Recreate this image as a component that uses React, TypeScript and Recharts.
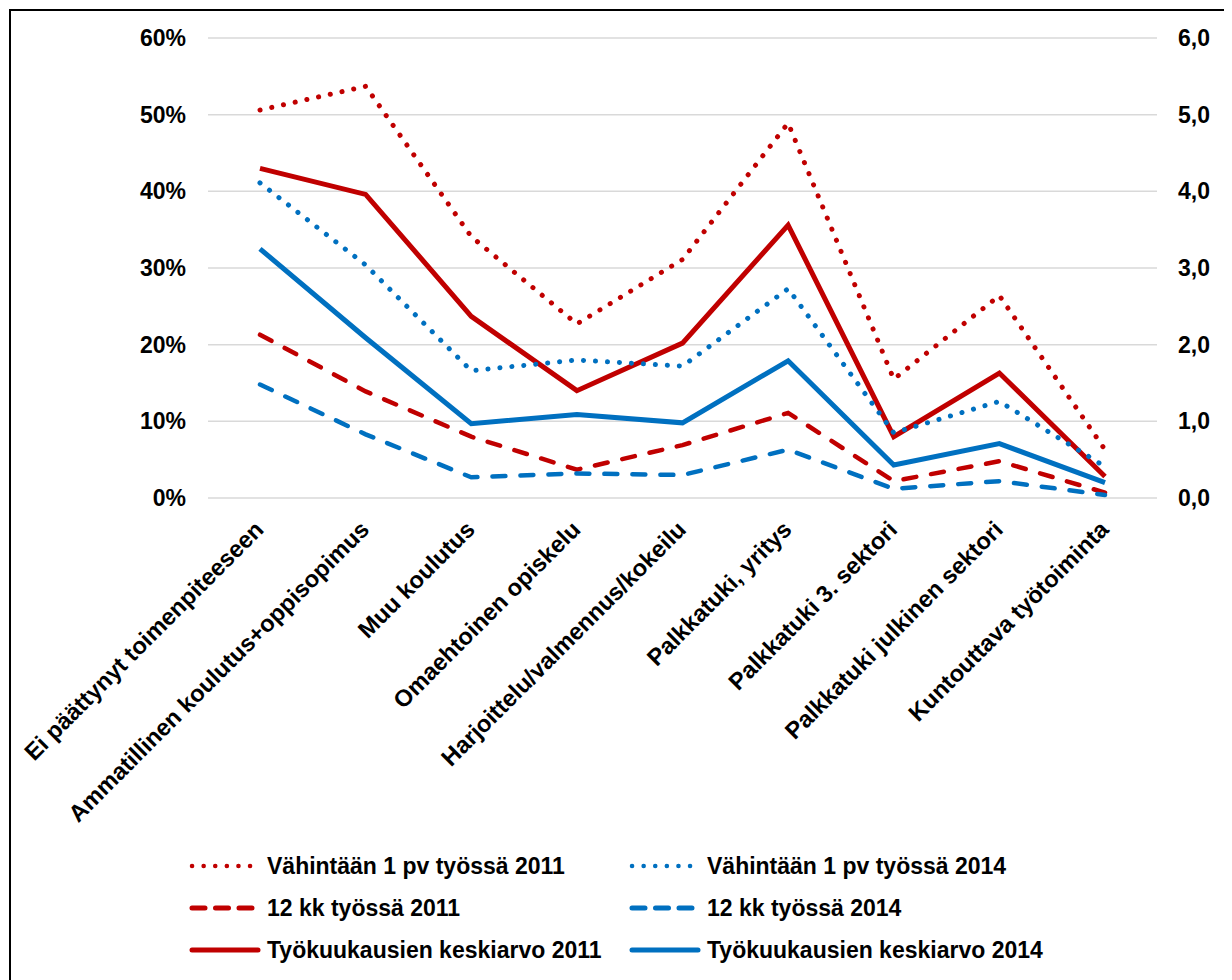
import React from "react";
import {
  LineChart,
  Line,
  XAxis,
  YAxis,
  CartesianGrid,
} from "recharts";

const categories = [
  "Ei päättynyt toimenpiteeseen",
  "Ammatillinen koulutus+oppisopimus",
  "Muu koulutus",
  "Omaehtoinen opiskelu",
  "Harjoittelu/valmennus/kokeilu",
  "Palkkatuki, yritys",
  "Palkkatuki 3. sektori",
  "Palkkatuki julkinen sektori",
  "Kuntouttava työtoiminta",
];

// % shares (left axis)
const vahintaan2011 = [50.6, 53.7, 34.1, 22.7, 31.1, 48.9, 15.5, 26.4, 6.3];
const vahintaan2014 = [41.1, 30.4, 16.6, 18.0, 17.2, 27.3, 8.5, 12.6, 4.1];
const kk12_2011 = [21.3, 13.9, 8.0, 3.7, 6.9, 11.1, 2.2, 4.8, 0.7];
const kk12_2014 = [14.8, 8.3, 2.7, 3.2, 3.0, 6.3, 1.2, 2.2, 0.4];

// months (right axis)
const keskiarvo2011 = [4.3, 3.96, 2.37, 1.4, 2.02, 3.56, 0.8, 1.63, 0.28];
const keskiarvo2014 = [3.25, 2.09, 0.97, 1.09, 0.98, 1.79, 0.43, 0.71, 0.2];

const leftTicks = [0, 10, 20, 30, 40, 50, 60];
const rightTicks = [0, 1, 2, 3, 4, 5, 6];

const RED = "#C00000";
const BLUE = "#0070C0";
const FONT = '"Liberation Sans", Arial, sans-serif';

const DOT = { dash: "0.1 11.9", width: 5 };
const DASH = { dash: "13 15", width: 4.5 };

const data = categories.map((name, i) => ({
  name,
  v2011: vahintaan2011[i],
  v2014: vahintaan2014[i],
  k2011: kk12_2011[i],
  k2014: kk12_2014[i],
  m2011: keskiarvo2011[i],
  m2014: keskiarvo2014[i],
}));

const legendItems = [
  { label: "Vähintään 1 pv työssä 2011", color: RED, dash: "0.1 11.5", width: 4.5 },
  { label: "Vähintään 1 pv työssä 2014", color: BLUE, dash: "0.1 11.5", width: 4.5 },
  { label: "12 kk työssä 2011", color: RED, dash: "13 10.5", width: 5 },
  { label: "12 kk työssä 2014", color: BLUE, dash: "13 10.5", width: 5 },
  { label: "Työkuukausien keskiarvo 2011", color: RED, dash: undefined, width: 5 },
  { label: "Työkuukausien keskiarvo 2014", color: BLUE, dash: undefined, width: 5 },
];

function CategoryTick({ x, y, payload }: any) {
  const tx = x + 5;
  const ty = y + 25;
  return (
    <text
      x={tx}
      y={ty}
      transform={`rotate(-45, ${tx}, ${ty})`}
      textAnchor="end"
      fontFamily={FONT}
      fontWeight="bold"
      fontSize={23.6}
      fill="#000"
    >
      {payload.value}
    </text>
  );
}

function LegendRow({ item, left, top }: any) {
  return (
    <div
      style={{
        position: "absolute",
        left,
        top,
        height: 30,
        display: "flex",
        alignItems: "center",
        whiteSpace: "nowrap",
      }}
    >
      <svg width={72} height={30}>
        <line
          x1={3}
          y1={15}
          x2={69}
          y2={15}
          stroke={item.color}
          strokeWidth={item.width}
          strokeDasharray={item.dash}
          strokeLinecap="round"
        />
      </svg>
      <span
        style={{
          marginLeft: 6,
          fontFamily: FONT,
          fontWeight: "bold",
          fontSize: 23,
          color: "#000",
        }}
      >
        {item.label}
      </span>
    </div>
  );
}

export default function App() {
  const tickStyle = {
    fontFamily: FONT,
    fontWeight: "bold",
    fontSize: 23,
    fill: "#000",
  };
  return (
    <div
      style={{
        position: "relative",
        width: 1219,
        height: 985,
        marginLeft: 1,
        marginTop: 1,
        border: "2px solid #000",
        boxSizing: "border-box",
        background: "#fff",
      }}
    >
      <LineChart
        width={1215}
        height={968}
        data={data}
        margin={{ top: 27, right: 0, left: 0, bottom: 0 }}
      >
        <CartesianGrid
          yAxisId="left"
          vertical={false}
          stroke="#d9d9d9"
          strokeWidth={1.5}
        />
        <XAxis
          dataKey="name"
          interval={0}
          height={481}
          padding={{ left: 52, right: 52 }}
          axisLine={false}
          tickLine={false}
          tick={<CategoryTick />}
        />
        <YAxis
          yAxisId="left"
          orientation="left"
          width={197}
          domain={[0, 60]}
          ticks={leftTicks}
          axisLine={false}
          tickLine={false}
          tickSize={6}
          tickMargin={16}
          tick={tickStyle}
          tickFormatter={(v: number) => `${v}%`}
        />
        <YAxis
          yAxisId="right"
          orientation="right"
          width={69}
          domain={[0, 6]}
          ticks={rightTicks}
          axisLine={false}
          tickLine={false}
          tickSize={6}
          tickMargin={15}
          tick={{ ...tickStyle, textAnchor: "start" }}
          tickFormatter={(v: number) => v.toFixed(1).replace(".", ",")}
        />
        <Line
          yAxisId="right"
          dataKey="m2011"
          stroke={RED}
          strokeWidth={5}
          dot={false}
          activeDot={false}
          isAnimationActive={false}
        />
        <Line
          yAxisId="right"
          dataKey="m2014"
          stroke={BLUE}
          strokeWidth={5}
          dot={false}
          activeDot={false}
          isAnimationActive={false}
        />
        <Line
          yAxisId="left"
          dataKey="k2011"
          stroke={RED}
          strokeWidth={DASH.width}
          strokeDasharray={DASH.dash}
          strokeLinecap="round"
          dot={false}
          activeDot={false}
          isAnimationActive={false}
        />
        <Line
          yAxisId="left"
          dataKey="k2014"
          stroke={BLUE}
          strokeWidth={DASH.width}
          strokeDasharray={DASH.dash}
          strokeLinecap="round"
          dot={false}
          activeDot={false}
          isAnimationActive={false}
        />
        <Line
          yAxisId="left"
          dataKey="v2011"
          stroke={RED}
          strokeWidth={DOT.width}
          strokeDasharray={DOT.dash}
          strokeLinecap="round"
          dot={false}
          activeDot={false}
          isAnimationActive={false}
        />
        <Line
          yAxisId="left"
          dataKey="v2014"
          stroke={BLUE}
          strokeWidth={DOT.width}
          strokeDasharray={DOT.dash}
          strokeLinecap="round"
          dot={false}
          activeDot={false}
          isAnimationActive={false}
        />
      </LineChart>
      {legendItems.map((item, i) => (
        <LegendRow
          key={item.label}
          item={item}
          left={i % 2 === 0 ? 178 : 618}
          top={840 + Math.floor(i / 2) * 42}
        />
      ))}
    </div>
  );
}
